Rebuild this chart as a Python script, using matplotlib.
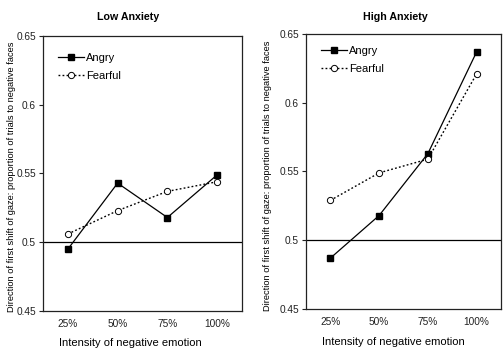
import matplotlib
matplotlib.use("Agg")
import matplotlib.pyplot as plt

plt.rcParams['font.family'] = ['Liberation Sans', 'DejaVu Sans']

categories = ["25%", "50%", "75%", "100%"]
low_angry = [0.495, 0.543, 0.518, 0.549]
low_fearful = [0.506, 0.523, 0.537, 0.544]
high_angry = [0.487, 0.518, 0.563, 0.637]
high_fearful = [0.529, 0.549, 0.559, 0.621]
yticks = [0.45, 0.5, 0.55, 0.6, 0.65]
yticklabels = ["0.45", "0.5", "0.55", "0.6", "0.65"]
titles = ["Low Anxiety", "High Anxiety"]
xlabel = "Intensity of negative emotion"
ylabel = "Direction of first shift of gaze: proportion of trials to negative faces"

W, H = 503, 350
fig = plt.figure(figsize=(W / 100, H / 100), dpi=100)


def px_axes(x0, y0, x1, y1):
    return fig.add_axes([x0 / W, 1 - y1 / H, (x1 - x0) / W, (y1 - y0) / H])


panels = [
    dict(box=(43, 36, 242, 311), angry=low_angry, fearful=low_fearful,
         title_xy=(128, 17), xl_xy=(130, 343), yl_xy=(12, 177), leg=(58, 53)),
    dict(box=(306, 34, 501, 309), angry=high_angry, fearful=high_fearful,
         title_xy=(395, 17), xl_xy=(393, 342), yl_xy=(268, 176), leg=(321, 46)),
]

for p, title in zip(panels, titles):
    ax = px_axes(*p["box"])
    x = list(range(len(categories)))
    ax.plot(x, p["angry"], color="black", lw=0.9, marker="s", ms=5,
            mfc="black", mec="black", label="Angry")
    ax.plot(x, p["fearful"], color="black", lw=1.0, ls=(0, (1.3, 1.6)),
            marker="o", ms=4.5, mfc="white", mec="black", mew=0.7,
            label="Fearful")
    ax.axhline(0.5, color="black", lw=0.9)
    ax.set_xlim(-0.5, len(categories) - 0.5)
    ax.set_ylim(0.45, 0.65)
    ax.set_yticks(yticks)
    ax.set_yticklabels(yticklabels)
    ax.set_xticks(x)
    ax.set_xticklabels(categories)
    ax.tick_params(axis="x", length=0, labelsize=7.3, pad=6, colors="#222222")
    ax.tick_params(axis="y", length=3, width=0.8, labelsize=7.3, pad=2,
                   colors="#222222", direction="out")
    for s in ax.spines.values():
        s.set_linewidth(0.9)
        s.set_color("#222222")
    fig.text(p["title_xy"][0] / W, 1 - p["title_xy"][1] / H, title,
             fontsize=7.7, fontweight="bold", ha="center", va="center")
    fig.text(p["xl_xy"][0] / W, 1 - p["xl_xy"][1] / H, xlabel,
             fontsize=8, ha="center", va="center")
    fig.text(p["yl_xy"][0] / W, 1 - p["yl_xy"][1] / H, ylabel,
             fontsize=6.7, ha="center", va="center", rotation=90)
    lx, ly = p["leg"]
    ax.legend(loc="upper left",
              bbox_to_anchor=((lx - p["box"][0]) / (p["box"][2] - p["box"][0]),
                              1 - (ly - p["box"][1]) / (p["box"][3] - p["box"][1])),
              frameon=False, fontsize=8, handlelength=2.3, handletextpad=0.25,
              borderpad=0, borderaxespad=0, labelspacing=0.75)

fig.savefig("out.png", dpi=100)
